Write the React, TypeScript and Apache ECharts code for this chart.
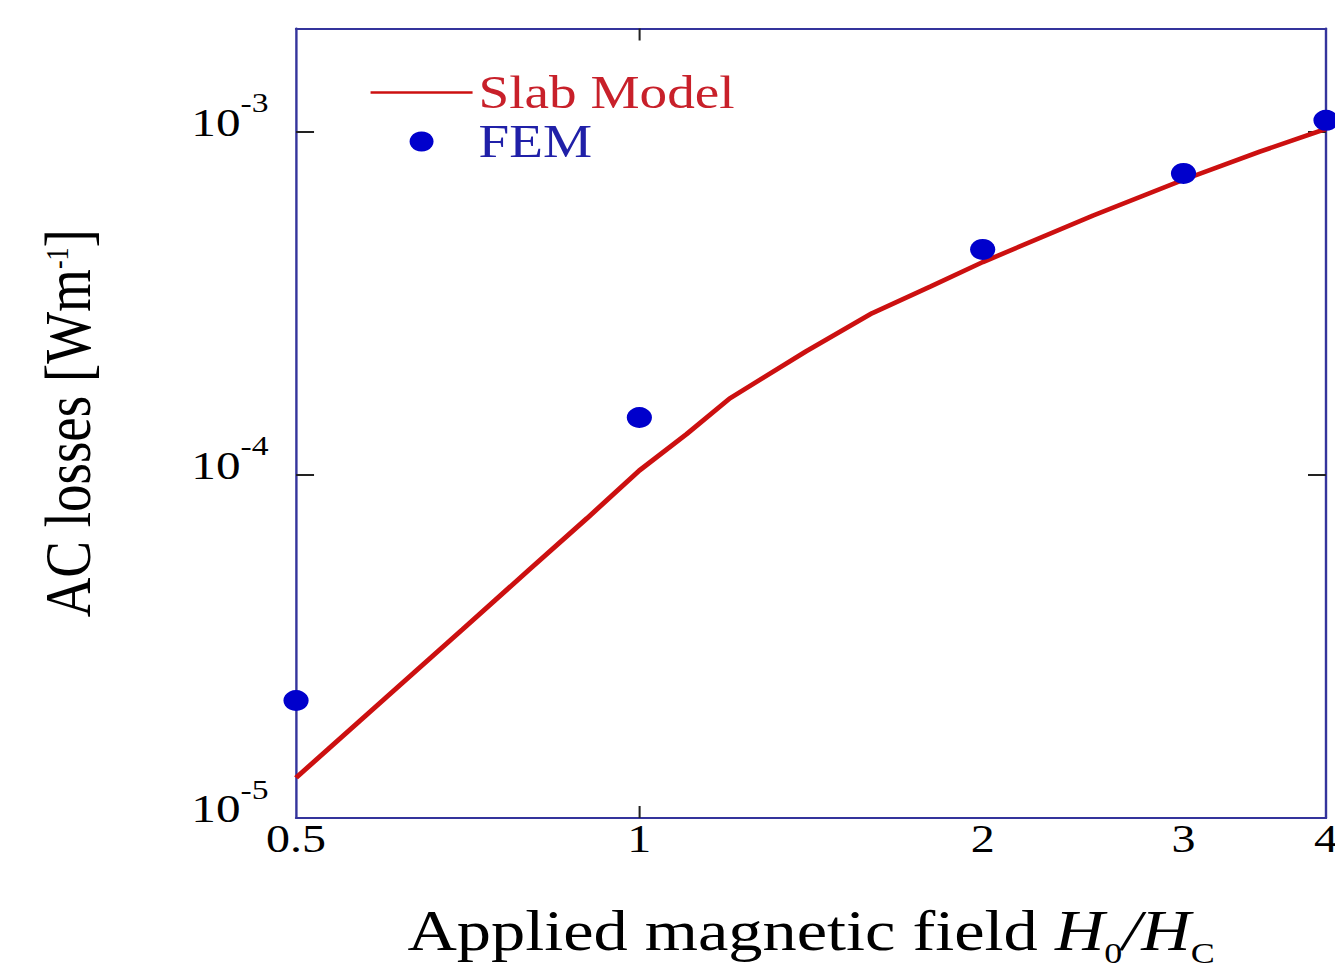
import React, { useEffect, useRef } from 'react';
import * as echarts from 'echarts';

// ---- data ----
const slabX = [0.5, 0.6, 0.7, 0.8, 0.9, 1.0, 1.1, 1.2, 1.4, 1.6, 1.8, 2.0, 2.5, 3.0, 3.5, 4.0];
const slabY = [1.31e-5, 2.25e-5, 3.55e-5, 5.28e-5, 7.48e-5, 1.03e-4, 1.315e-4, 1.67e-4, 2.29e-4, 2.96e-4, 3.54e-4, 4.17e-4, 5.7e-4, 7.25e-4, 8.75e-4, 1.02e-3];
const femX = [0.5, 1, 2, 3, 4];
const femY = [2.2e-5, 1.47e-4, 4.54e-4, 7.56e-4, 1.08e-3];
const xTickLabels = [0.5, 1, 2, 3, 4];
const xTickMarks = [1];
const yTickLabels = [1e-5, 1e-4, 1e-3];
const yTickMarks = [1e-4, 1e-3];
const xRange = [0.5, 4];
const yRange = [1e-5, 2e-3];

// ---- layout / style ----
const W = 1112.5;
const H = 974;
const SX = 1335 / W;
const SERIF = "'Times New Roman', 'Liberation Serif', serif";
const NAVY = '#34349c';
const RED = '#cc1010';
const BLUE = '#0000cc';
const INK = '#000000';

export default function App() {
  const ref = useRef<HTMLDivElement>(null);

  useEffect(() => {
    if (!ref.current) return;
    const chart = echarts.init(ref.current, undefined, { renderer: 'svg', width: W, height: H });

    const frameLine = { show: true, onZero: false, lineStyle: { color: NAVY, width: 2 } };

    const option: any = {
      animation: false,
      backgroundColor: '#ffffff',
      grid: { left: 246.7, right: 7.5, top: 28.5, bottom: 156, containLabel: false, outerBoundsMode: 'none' },
      legend: {
        show: true,
        orient: 'vertical',
        left: 302.5,
        top: 64.5,
        itemWidth: 85,
        itemHeight: 20,
        itemGap: 3,
        textStyle: { fontFamily: SERIF, fontSize: 46, lineHeight: 45, padding: [0, 0, 0, 0] },
        data: [
          { name: 'Slab Model', itemStyle: { opacity: 0 }, lineStyle: { width: 2.6, color: RED }, textStyle: { color: '#c8202a' } },
          { name: 'FEM', icon: 'circle', itemStyle: { color: BLUE, opacity: 1 }, textStyle: { color: '#2020a8' } },
        ],
      },
      xAxis: [
        {
          type: 'log',
          logBase: 2,
          min: xRange[0],
          max: xRange[1],
          position: 'bottom',
          axisLine: frameLine,
          axisTick: { show: true, inside: true, length: 12, customValues: xTickMarks, lineStyle: { color: '#222', width: 1.7 } },
          axisLabel: {
            show: true,
            customValues: xTickLabels,
            margin: 1,
            fontSize: 40,
            fontFamily: SERIF,
            color: INK,
            formatter: (v: number) => String(v),
          },
          splitLine: { show: false },
          minorTick: { show: false },
          name: '{n|Applied magnetic field }{i|H}{sub|0}{i|/H}{sub|C}',
          nameLocation: 'middle',
          nameGap: 84,
          nameTextStyle: {
            color: INK,
            fontFamily: SERIF,
            fontSize: 57,
            rich: {
              n: { fontFamily: SERIF, fontSize: 57, lineHeight: 57, color: INK, verticalAlign: 'top' },
              i: { fontFamily: SERIF, fontSize: 57, lineHeight: 57, color: INK, fontStyle: 'italic', verticalAlign: 'top' },
              sub: { fontFamily: SERIF, fontSize: 30, lineHeight: 30, color: INK, verticalAlign: 'top', padding: [36, 0, 0, 0] },
            },
          },
        },
        {
          type: 'log',
          logBase: 2,
          min: xRange[0],
          max: xRange[1],
          position: 'top',
          axisLine: frameLine,
          axisTick: { show: true, inside: true, length: 12, customValues: xTickMarks, lineStyle: { color: '#222', width: 1.7 } },
          axisLabel: { show: false },
          splitLine: { show: false },
        },
      ],
      yAxis: [
        {
          type: 'log',
          logBase: 10,
          min: yRange[0],
          max: yRange[1],
          position: 'left',
          axisLine: frameLine,
          axisTick: { show: true, inside: true, length: 15, customValues: yTickMarks, lineStyle: { color: '#222', width: 2 } },
          axisLabel: {
            show: true,
            customValues: yTickLabels,
            margin: 23,
            padding: [0, 0, 19, 0],
            fontFamily: SERIF,
            color: INK,
            formatter: (v: number) => `{b|10}{s|-${Math.abs(Math.round(Math.log10(v)))}}`,
            rich: {
              b: { fontFamily: SERIF, fontSize: 41, lineHeight: 41, color: INK, verticalAlign: 'bottom' },
              s: { fontFamily: SERIF, fontSize: 28, lineHeight: 28, color: INK, verticalAlign: 'bottom', padding: [0, 0, 26, 0] },
            },
          },
          splitLine: { show: false },
          minorTick: { show: false },
          name: '{n|AC losses [Wm}{sup|-1}{n|]}',
          nameLocation: 'middle',
          nameGap: 163,
          nameTextStyle: {
            color: INK,
            fontFamily: SERIF,
            fontSize: 55,
            rich: {
              n: { fontFamily: SERIF, fontSize: 55, lineHeight: 55, color: INK, verticalAlign: 'bottom' },
              sup: { fontFamily: SERIF, fontSize: 26, lineHeight: 26, color: INK, verticalAlign: 'bottom', padding: [0, 0, 23, 0] },
            },
          },
        },
        {
          type: 'log',
          logBase: 10,
          min: yRange[0],
          max: yRange[1],
          position: 'right',
          axisLine: frameLine,
          axisTick: { show: true, inside: true, length: 15, customValues: yTickMarks, lineStyle: { color: '#222', width: 2 } },
          axisLabel: { show: false },
          splitLine: { show: false },
        },
      ],
      series: [
        {
          name: 'Slab Model',
          type: 'line',
          xAxisIndex: 0,
          yAxisIndex: 0,
          data: slabX.map((x, i) => [x, slabY[i]]),
          symbol: 'none',
          showSymbol: false,
          smooth: false,
          lineStyle: { color: RED, width: 4.5 },
          itemStyle: { color: RED },
          z: 3,
        },
        {
          name: 'FEM',
          type: 'scatter',
          xAxisIndex: 0,
          yAxisIndex: 0,
          data: femX.map((x, i) => [x, femY[i]]),
          symbol: 'circle',
          symbolSize: 21,
          clip: false,
          itemStyle: { color: BLUE, opacity: 1 },
          z: 4,
        },
      ],
    };

    chart.setOption(option);
    return () => {
      chart.dispose();
    };
  }, []);

  return (
    <div
      ref={ref}
      style={{
        position: 'absolute',
        left: 0,
        top: 0,
        width: W,
        height: H,
        transform: `scaleX(${SX})`,
        transformOrigin: '0 0',
        background: '#fff',
      }}
    />
  );
}
